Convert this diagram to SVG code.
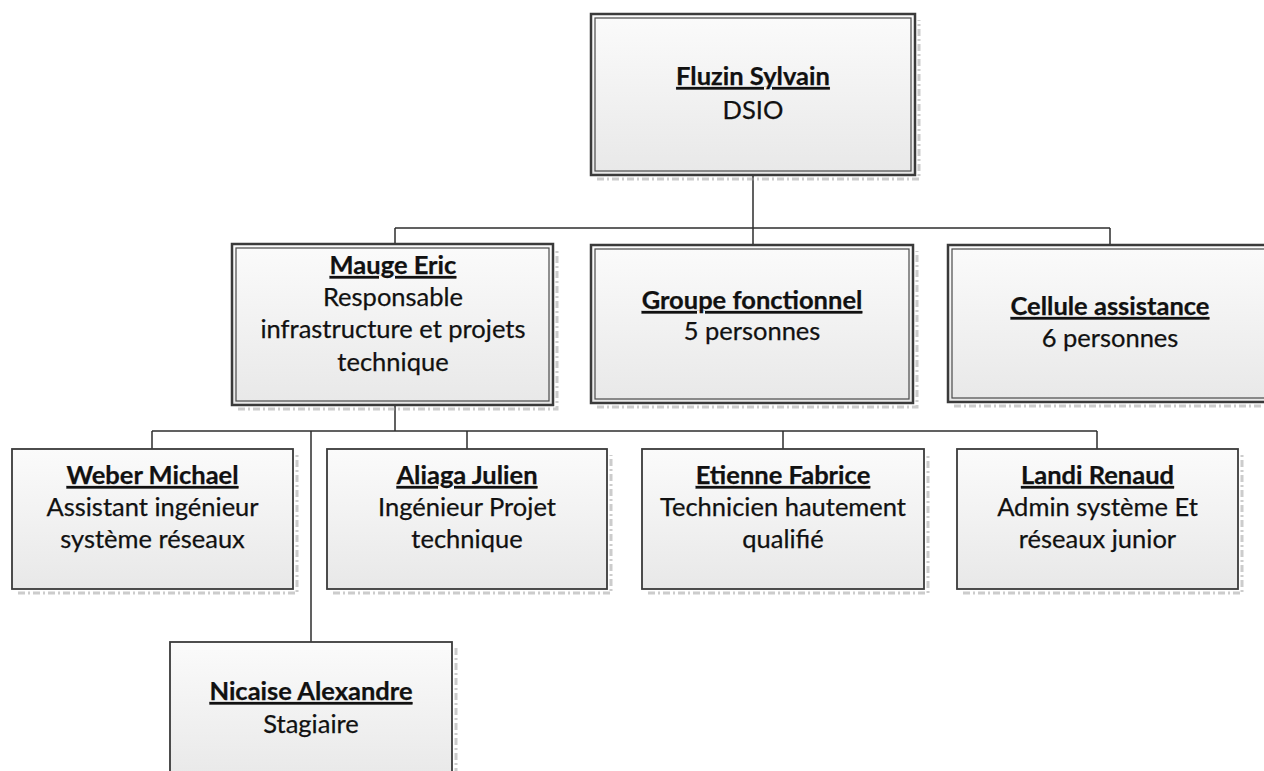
<svg xmlns="http://www.w3.org/2000/svg" width="1264" height="771" viewBox="0 0 1264 771">
<defs>
<linearGradient id="g" x1="0" y1="0" x2="0" y2="1">
<stop offset="0" stop-color="#fbfbfb"/>
<stop offset="1" stop-color="#e8e8e8"/>
</linearGradient>
<style>
.box{fill:url(#g);stroke:#3a3a3a;stroke-width:2.5}
.inner{fill:none;stroke:#4a4a4a;stroke-width:1.2}
.box2{fill:url(#g);stroke:#3a3a3a;stroke-width:1.8}
.sh{fill:none;stroke:#9a9a9a;stroke-width:3;stroke-dasharray:7 3 2 3;opacity:.5}
.ln{fill:none;stroke:#2e2e2e;stroke-width:1.5}
text{font-family:Lato,"Open Sans","Liberation Sans",sans-serif;font-size:25.5px;fill:#111111;text-anchor:middle;stroke:#111111;stroke-width:0.25}
.n{font-weight:bold;text-decoration:underline}
</style>
</defs>
<rect width="1264" height="771" fill="#ffffff"/>
<g id="connectors">
<path class="ln" d="M753 175V228M395 228H1110M395 228V244M753 228V245M1110 228V245"/>
<path class="ln" d="M395 405V431M152 431H1097M152 431V449M467 431V449M783 431V449M1097 431V449M311 431V642"/>
</g>
<g id="n-fluzin">
<path class="sh" d="M597 179H919V20"/>
<rect class="box" x="591" y="14" width="324" height="161"/>
<rect class="inner" x="595" y="18" width="316" height="153"/>
<text x="753" y="85"><tspan class="n">Fluzin Sylvain</tspan></text>
<text x="753" y="119">DSIO</text>
</g>
<g id="n-mauge">
<path class="sh" d="M238 409H557V250"/>
<rect class="box" x="232" y="244" width="321" height="161"/>
<rect class="inner" x="236" y="248" width="313" height="153"/>
<text x="393" y="274"><tspan class="n">Mauge Eric</tspan></text>
<text x="393" y="306">Responsable</text>
<text x="393" y="338">infrastructure et projets</text>
<text x="393" y="371">technique</text>
</g>
<g id="n-groupe">
<path class="sh" d="M597 407H917V251"/>
<rect class="box" x="591" y="245" width="322" height="158"/>
<rect class="inner" x="595" y="249" width="314" height="150"/>
<text x="752" y="309"><tspan class="n">Groupe fonctionnel</tspan></text>
<text x="752" y="340">5 personnes</text>
</g>
<g id="n-cellule">
<path class="sh" d="M954 406H1276V251"/>
<rect class="box" x="948" y="245" width="324" height="157"/>
<rect class="inner" x="952" y="249" width="316" height="149"/>
<text x="1110" y="315"><tspan class="n">Cellule assistance</tspan></text>
<text x="1110" y="347">6 personnes</text>
</g>
<g id="n-weber">
<path class="sh" d="M18 593H297V455"/>
<rect class="box2" x="12" y="449" width="281" height="140"/>
<text x="152.5" y="484"><tspan class="n">Weber Michael</tspan></text>
<text x="152.5" y="516">Assistant ingénieur</text>
<text x="152.5" y="548">système réseaux</text>
</g>
<g id="n-aliaga">
<path class="sh" d="M333 593H611V455"/>
<rect class="box2" x="327" y="449" width="280" height="140"/>
<text x="467" y="484"><tspan class="n">Aliaga Julien</tspan></text>
<text x="467" y="516">Ingénieur Projet</text>
<text x="467" y="548">technique</text>
</g>
<g id="n-etienne">
<path class="sh" d="M648 593H928V455"/>
<rect class="box2" x="642" y="449" width="282" height="140"/>
<text x="783" y="484"><tspan class="n">Etienne Fabrice</tspan></text>
<text x="783" y="516">Technicien hautement</text>
<text x="783" y="548">qualifié</text>
</g>
<g id="n-landi">
<path class="sh" d="M963 593H1242V455"/>
<rect class="box2" x="957" y="449" width="281" height="140"/>
<text x="1097.5" y="484"><tspan class="n">Landi Renaud</tspan></text>
<text x="1097.5" y="516">Admin système Et</text>
<text x="1097.5" y="548">réseaux junior</text>
</g>
<g id="n-nicaise">
<path class="sh" d="M456 648V780"/>
<rect class="box2" x="170" y="642" width="282" height="140"/>
<text x="311" y="700"><tspan class="n">Nicaise Alexandre</tspan></text>
<text x="311" y="733">Stagiaire</text>
</g>
</svg>
